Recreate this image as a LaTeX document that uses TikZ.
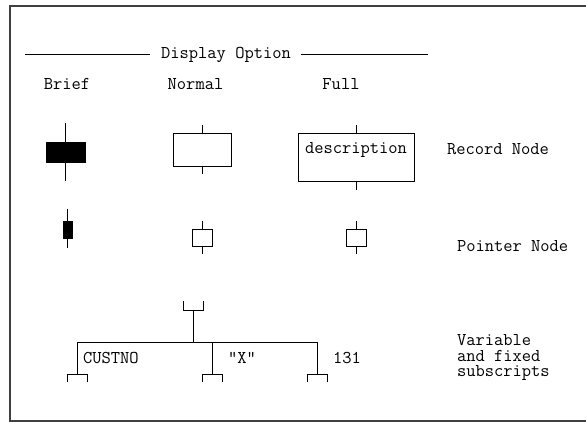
\documentclass[tikz,border=0pt]{standalone}
\usetikzlibrary{positioning}

\begin{document}
\begin{tikzpicture}[
    x=1pt, y=-1pt, % pixel grid, y grows downward
    every node/.style={font=\fontsize{18}{16}\selectfont\ttfamily,
      inner sep=0pt, outer sep=0pt},
    txt/.style={anchor=base},
    line/.style={line width=0.9pt},
    frame/.style={line width=1.1pt, black!75},
    recbox/.style={rectangle, draw, line width=0.9pt, fill=white},
    briefbox/.style={rectangle, draw, line width=0.9pt, fill=black},
  ]
  \useasboundingbox (0,0) rectangle (586,422);

  % --- Frame (open on the right) ---
  \draw[frame] (586,6) -- (10,6) -- (10,421) -- (586,421);

  % --- Title ---
  \node[txt] (title) at (226,59) {Display Option};
  \coordinate (titleL) at (25,54);
  \coordinate (titleR) at (428,54);
  \draw[line] (titleL) -- ([xshift=-11pt]titleL -| title.west);
  \draw[line] ([xshift=10pt]titleR -| title.east) -- (titleR);

  \node[txt] (hbrief) at (67,90) {Brief};
  \node[txt] (hnormal) at (195.5,90) {Normal};
  \node[txt] (hfull) at (341,90) {Full};

  % --- Record nodes ---
  \node[briefbox, minimum width=39, minimum height=20] (recbrief) at (65.5,152) {};
  \node[recbox, minimum width=58, minimum height=33] (recnormal) at (202,149.5) {};
  \node[recbox, minimum width=116, minimum height=48] (recfull) at (356,157) {};
  \node[below=10pt of recfull.north] (desc) {description};

  \draw[line] (recbrief.north) -- ++(0,-19);
  \draw[line] (recbrief.south) -- ++(0,19);
  \draw[line] (recnormal.north) -- ++(0,-8);
  \draw[line] (recnormal.south) -- ++(0,8);
  \draw[line] (recfull.north) -- ++(0,-8);
  \draw[line] (recfull.south) -- ++(0,9);

  \node[txt, anchor=base west] (lblrecord) at (447,155) {Record Node};

  % --- Pointer nodes ---
  \node[briefbox, minimum width=9, minimum height=17] (ptrbrief) at (67.5,229.5) {};
  \node[recbox, minimum width=20, minimum height=17] (ptrnormal) at (202,237.5) {};
  \node[recbox, minimum width=20, minimum height=17] (ptrfull) at (356,237.5) {};

  \draw[line] (ptrbrief.north) -- ++(0,-12);
  \draw[line] (ptrbrief.south) -- ++(0,10);
  \foreach \p in {ptrnormal,ptrfull} {
    \draw[line] (\p.north) -- ++(0,-8);
    \draw[line] (\p.south) -- ++(0,8);
  }

  \node[txt, anchor=base west] (lblpointer) at (457,251) {Pointer Node};

  % --- Subscript tree ---
  \coordinate (root) at (193,310);
  \coordinate (bus) at (193,342);
  \coordinate (custno) at (77,374);
  \coordinate (xsub) at (212,374);
  \coordinate (fixsub) at (317,374);

  \draw[line] (root) ++(-10,-9) -- ++(0,9) -- ++(20,0) -- ++(0,-9);
  \draw[line] (root) -- (bus);
  \draw[line] (custno |- bus) -- (fixsub |- bus);
  \foreach \s in {custno,xsub,fixsub} {
    \draw[line] (\s |- bus) -- (\s);
    \draw[line] (\s) ++(-10,8) -- ++(0,-8) -- ++(20,0) -- ++(0,8);
  }

  \node[txt, anchor=base west] (lblcustno) at (83,363) {CUSTNO};
  \node[txt, anchor=base west] (lblx) at (228,363) {"X"};
  \node[txt, anchor=base west] (lbl131) at (333,363) {131};

  \node[anchor=north west, align=left] (lblsub) at (457,334)
    {Variable\\and fixed\\subscripts};
\end{tikzpicture}
\end{document}
